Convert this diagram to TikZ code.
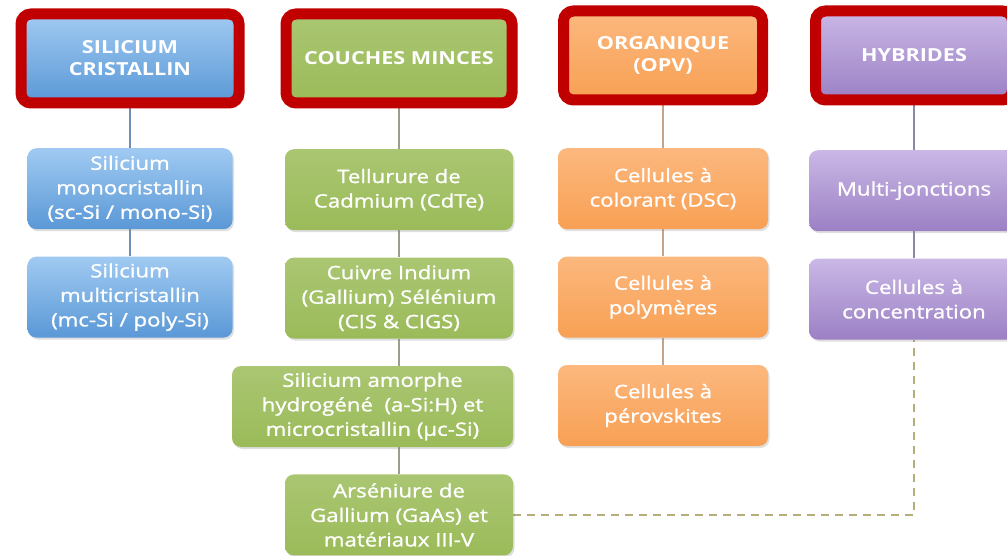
\documentclass[tikz,border=0pt]{standalone}
\usepackage{fontspec}
\setmainfont{Open Sans}[FakeStretch=1.2]
\newfontfamily\cellfont{Open Sans}[FakeStretch=1.2, FakeBold=1.2]
\usetikzlibrary{positioning,backgrounds,shadows}

\definecolor{frame}{RGB}{192,0,0}
\definecolor{blueTop}{RGB}{160,202,242}
\definecolor{blueBot}{RGB}{90,152,214}
\definecolor{greenTop}{RGB}{170,198,114}
\definecolor{greenBot}{RGB}{155,187,89}
\definecolor{orangeTop}{RGB}{252,184,126}
\definecolor{orangeBot}{RGB}{248,160,84}
\definecolor{purpleTop}{RGB}{202,184,230}
\definecolor{purpleBot}{RGB}{155,128,196}

\begin{document}
\begin{tikzpicture}[x=1pt, y=-1pt, node distance=27pt,
  head/.style={draw=frame, line width=11pt, rounded corners=10pt, minimum height=89pt,
    text=white, align=center, font=\bfseries\fontsize{18}{22}\selectfont},
  cell/.style={rounded corners=9pt, minimum height=81pt, text=white, align=center,
    font=\cellfont\fontsize{18.5}{24.5}\selectfont,
    drop shadow={shadow xshift=1.5pt, shadow yshift=-2pt, opacity=0.25}},
  sil/.style={top color=blueTop, bottom color=blueBot},
  thin/.style={top color=greenTop, bottom color=greenBot},
  orga/.style={top color=orangeTop, bottom color=orangeBot},
  hyb/.style={top color=purpleTop, bottom color=purpleBot}]
\useasboundingbox (0,0) rectangle (1007,556);

% headers
\node[head, sil, minimum width=218pt] (h1) at (130,58.5) {SILICIUM\\CRISTALLIN};
\node[head, thin, minimum width=226pt] (h2) at (399,58.5) {COUCHES MINCES};
\node[head, orga, minimum width=199pt] (h3) at (663,55.5) {ORGANIQUE\\(OPV)};
\node[head, hyb, minimum width=197pt] (h4) at (914,55.5) {HYBRIDES};

% silicium cristallin
\node[cell, sil, minimum width=205pt, below=39.5pt of h1] (mono) {Silicium\\monocristallin\\(sc-Si / mono-Si)};
\node[cell, sil, minimum width=205pt, below=of mono] (multi) {Silicium\\multicristallin\\(mc-Si / poly-Si)};

% couches minces
\node[cell, thin, minimum width=228pt, below=40.5pt of h2] (cdte) {Tellurure de\\Cadmium (CdTe)};
\node[cell, thin, minimum width=228pt, below=of cdte] (cigs) {Cuivre Indium\\(Gallium) Sélénium\\(CIS \& CIGS)};
\node[cell, thin, minimum width=281pt, below=of cigs, xshift=-26.5pt] (asi) {Silicium amorphe\\hydrogéné\ \ (a-Si:H) et\\microcristallin (µc-Si)};
\node[cell, thin, minimum width=228pt, below=of asi, xshift=26.5pt] (gaas) {Arséniure de\\Gallium (GaAs) et\\matériaux III-V};

% organique
\node[cell, orga, minimum width=210pt, below=42.5pt of h3] (dsc) {Cellules à\\colorant (DSC)};
\node[cell, orga, minimum width=210pt, below=of dsc] (poly) {Cellules à\\polymères};
\node[cell, orga, minimum width=210pt, below=of poly] (pero) {Cellules à\\pérovskites};

% hybrides
\node[cell, hyb, minimum width=210pt, below=44.5pt of h4] (mj) {Multi-jonctions};
\node[cell, hyb, minimum width=210pt, below=of mj] (conc) {Cellules à\\concentration};

\begin{scope}[on background layer]
\path[line width=2.5pt]
  (h1) edge[draw={rgb,255:red,110;green,143;blue,179}] (mono)
  (mono) edge[draw={rgb,255:red,110;green,143;blue,179}] (multi)

  (h2) edge[draw={rgb,255:red,154;green,159;blue,140}] (cdte)
  (cdte) edge[draw={rgb,255:red,154;green,159;blue,140}] (cigs)
  (cigs) edge[draw={rgb,255:red,154;green,159;blue,140}] (cigs |- asi)
  (gaas |- asi) edge[draw={rgb,255:red,154;green,159;blue,140}] (gaas)

  (h3) edge[draw={rgb,255:red,196;green,165;blue,138}] (dsc)
  (dsc) edge[draw={rgb,255:red,196;green,165;blue,138}] (poly)
  (poly) edge[draw={rgb,255:red,196;green,165;blue,138}] (pero)

  (h4) edge[draw={rgb,255:red,141;green,135;blue,166}] (mj)
  (mj) edge[draw={rgb,255:red,141;green,135;blue,166}] (conc)
;
\draw[dash pattern=on 8pt off 6pt, line width=2.5pt, draw={rgb,255:red,181;green,173;blue,122}] (gaas) -| (conc);
\end{scope}
\end{tikzpicture}
\end{document}
